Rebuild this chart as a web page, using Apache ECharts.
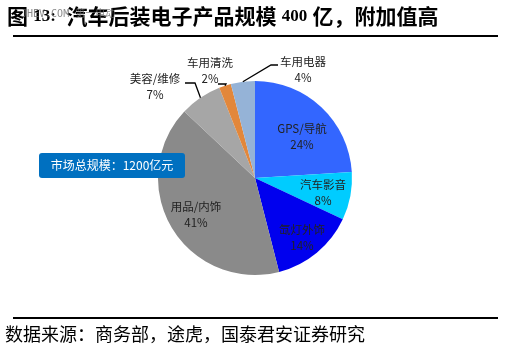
<!DOCTYPE html>
<html>
<head>
<meta charset="utf-8">
<script src="https://cdn.jsdelivr.net/npm/echarts@6/dist/echarts.min.js"></script>
<style>
  html, body { margin: 0; padding: 0; background: #fff; }
  #chart { width: 506px; height: 347px; }
</style>
</head>
<body>
<div id="chart"></div>
<script>
// Segment names and their share (%) of the aftermarket electronics market
const categories = ['GPS/导航', '汽车影音', '氙灯外饰', '用品/内饰', '美容/维修', '车用清洗', '车用电器'];
const shares = [24, 8, 14, 41, 7, 2, 4];
const sourceText = '数据来源：商务部，途虎，国泰君安证券研究';
const totalText = '市场总规模：1200亿元';
const watermarkText = 'JHEV.COM 第一电动';

const colors = ['#3366FF', '#00CCFF', '#0000EE', '#8A8A8A', '#A6A6A6', '#E2873B', '#95B3D7'];
// Which slices carry their label outside with a leader line
const outside = [false, false, false, false, true, true, true];
// Label centres (px)
const labelPos = [[302, 137], [323, 193], [302, 238], [196, 215], [155, 87], [210, 71], [303, 70]];
// Leader line elbow and end point for the outside labels (px)
const leaderBends = [null, null, null, null, [[195, 83], [185, 83]], [[226, 84], [218, 84]], [[271, 65], [278, 65]]];

const PIE_CENTER = [255, 178];
const PIE_RADIUS = 97;

const cjk = '"Noto Sans CJK SC", sans-serif';

// Leader lines start on the rim at each slice's mid angle (clockwise from 12 o'clock)
const total = shares.reduce((a, b) => a + b, 0);
const leaderLines = [];
let cum = 0;
shares.forEach((v, i) => {
  const mid = (cum + v / 2) / total * Math.PI * 2;
  cum += v;
  if (!leaderBends[i]) return;
  const anchor = [PIE_CENTER[0] + PIE_RADIUS * Math.sin(mid), PIE_CENTER[1] - PIE_RADIUS * Math.cos(mid)];
  leaderLines.push({
    id: 'leader' + i,
    type: 'polyline',
    z: 200,
    silent: true,
    shape: { points: [anchor, leaderBends[i][0], leaderBends[i][1]] },
    style: { stroke: '#000', lineWidth: 1.3, fill: 'none' }
  });
});

const chart = echarts.init(document.getElementById('chart'), null, { renderer: 'canvas' });

const data = categories.map((name, i) => ({
  name: name,
  value: shares[i],
  itemStyle: { color: colors[i] },
  label: { position: outside[i] ? 'outside' : 'inside' },
  labelLine: { show: false }
}));

chart.setOption({
  animation: false,
  graphic: {
    elements: leaderLines.concat([
      {
        id: 'title', type: 'text', left: 7, top: 6,
        style: {
          text: '{c|图} {n|13:}  {c|汽车后装电子产品规模} {n|400} {c|亿，}{c|附加值高}',
          font: 'bold 21px "Liberation Serif", serif',
          fill: '#000',
          rich: {
            c: { fontFamily: 'Noto Sans CJK SC', fontWeight: 'bold', fontSize: 21, fill: '#000' },
            n: { fontFamily: 'Liberation Serif', fontWeight: 'bold', fontSize: 17, fill: '#000' }
          }
        }
      },
      {
        id: 'watermark', type: 'text', left: 21, top: 9, z: 20,
        style: { text: watermarkText, font: '10px "DejaVu Sans Mono", "Noto Sans CJK SC"', fill: 'rgba(110,110,110,0.8)' }
      },
      {
        id: 'ruleTop', type: 'line', shape: { x1: 13, y1: 36, x2: 498, y2: 36 },
        style: { stroke: '#000', lineWidth: 2 }
      },
      {
        id: 'ruleBottom', type: 'line', shape: { x1: 13, y1: 318, x2: 498, y2: 318 },
        style: { stroke: '#000', lineWidth: 2 }
      },
      {
        id: 'source', type: 'text', left: 5, top: 325,
        style: { text: sourceText, font: '18px ' + cjk, fill: '#000' }
      },
      {
        id: 'totalBox', type: 'group', left: 39, top: 153, z: 100,
        children: [
          { type: 'rect', z: 100, shape: { x: 0, y: 0, width: 146, height: 25, r: 3 }, style: { fill: '#0070C0' } },
          {
            type: 'text', z: 101, x: 73, y: 12.5,
            style: { text: totalText, font: '12px ' + cjk, fill: '#fff', align: 'center', verticalAlign: 'middle' }
          }
        ]
      }
    ])
  },
  series: [{
    type: 'pie',
    z: 2,
    center: PIE_CENTER,
    radius: [0, PIE_RADIUS],
    startAngle: 90,
    clockwise: true,
    data: data,
    label: {
      formatter: '{b}\n{c}%',
      fontFamily: cjk,
      fontSize: 11.5,
      lineHeight: 16,
      color: '#222',
      align: 'center'
    },
    labelLine: { show: false },
    labelLayout: function (params) {
      const p = labelPos[params.dataIndex];
      return { x: p[0], y: p[1], align: 'center', verticalAlign: 'middle' };
    },
    emphasis: { disabled: true }
  }]
});
</script>
</body>
</html>
